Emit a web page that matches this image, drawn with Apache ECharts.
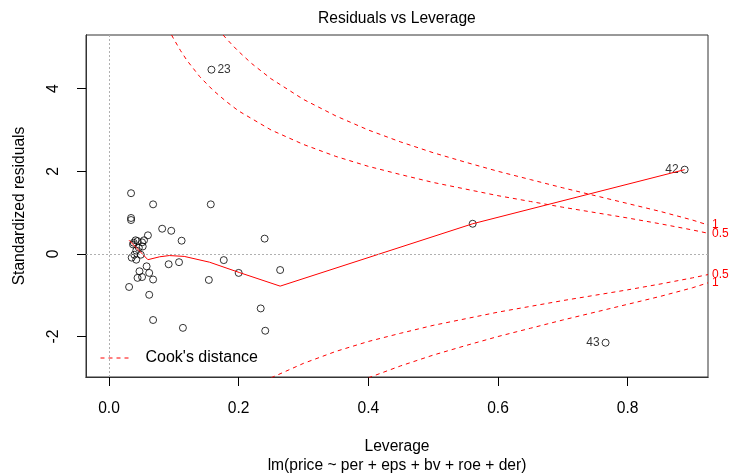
<!DOCTYPE html>
<html>
<head>
<meta charset="utf-8">
<script src="https://cdn.jsdelivr.net/npm/echarts@6/dist/echarts.min.js"></script>
<style>html,body{margin:0;padding:0;background:#fff}#c{width:731px;height:473px}</style>
</head>
<body>
<div id="c"></div>
<script>
// ---- data ----
const leverage = [0.034,0.068,0.157,0.034,0.034,0.082,0.096,0.060,0.112,0.240,
  0.038,0.044,0.051,0.054,0.046,0.052,0.042,0.049,0.035,0.042,
  0.177,0.092,0.108,0.058,0.047,0.062,0.200,0.264,0.044,0.051,
  0.068,0.154,0.031,0.062,0.234,0.068,0.114,0.241,0.561,0.041,0.037,0.039];
const stdResid = [1.47,1.20,1.20,0.87,0.82,0.61,0.56,0.45,0.32,0.37,
  0.27,0.31,0.28,0.33,0.15,0.18,0.08,-0.02,-0.09,-0.14,
  -0.15,-0.25,-0.20,-0.30,-0.42,-0.46,-0.46,-0.39,-0.58,-0.56,
  -0.62,-0.63,-0.80,-0.99,-1.32,-1.60,-1.79,-1.86,0.73,0.33,0.23,-0.02];
// labelled (extreme) observations
const idLev = [0.158, 0.888, 0.766];
const idRes = [4.46, 2.04, -2.15];
const idNames = ['23', '42', '43'];
const idSide = ['right', 'left', 'left'];
// smoother (red solid line)
const smoothLev = [0.031,0.060,0.078,0.093,0.116,0.155,0.201,0.264,0.561,0.888];
const smoothRes = [0.33,-0.14,-0.07,-0.04,-0.06,-0.20,-0.45,-0.78,0.73,2.04];
// Cook's distance contours
const cookUp05H = [0.0965,0.10,0.11,0.12,0.14,0.16,0.18,0.20,0.25,0.30,0.35,0.40,0.45,0.50,0.55,0.60,0.65,0.70,0.75,0.80,0.85,0.90,0.924];
const cookUp05R = [5.30,5.20,4.93,4.69,4.29,3.97,3.70,3.46,3.00,2.65,2.36,2.12,1.92,1.73,1.57,1.41,1.27,1.13,1.00,0.87,0.73,0.58,0.50];
const cookUp1H = [0.176,0.18,0.19,0.20,0.22,0.25,0.30,0.35,0.40,0.45,0.50,0.55,0.60,0.65,0.70,0.75,0.80,0.85,0.90,0.924];
const cookUp1R = [5.30,5.23,5.06,4.90,4.61,4.24,3.74,3.34,3.00,2.71,2.45,2.22,2.00,1.80,1.60,1.41,1.22,1.03,0.82,0.70];
const cookLo05H = [0.25,0.30,0.35,0.40,0.45,0.50,0.55,0.60,0.65,0.70,0.75,0.80,0.85,0.90,0.924];
const cookLo05R = [-3.00,-2.65,-2.36,-2.12,-1.92,-1.73,-1.57,-1.41,-1.27,-1.13,-1.00,-0.87,-0.73,-0.58,-0.50];
const cookLo1H = [0.40,0.45,0.50,0.55,0.60,0.65,0.70,0.75,0.80,0.85,0.90,0.924];
const cookLo1R = [-3.00,-2.71,-2.45,-2.22,-2.00,-1.80,-1.60,-1.41,-1.22,-1.03,-0.82,-0.70];
const xTicks = [0, 0.2, 0.4, 0.6, 0.8];
const yTicks = [-2, 0, 2, 4];
const cookLabels = ['0.5', '1', '0.5', '1'];

// ---- chart ----
const FONT = "'Liberation Sans', Arial, sans-serif";
const RED = '#ff0000';
const X_MIN = -0.0355, X_MAX = 0.924, Y_MIN = -2.98, Y_MAX = 5.30;
const GRID = { left: 86, right: 23, top: 35, bottom: 96 };
const zip = (a, b) => a.map((v, i) => [v, b[i]]);
function cookSeries(h, r, lab) {
  return {
    type: 'line', name: "Cook's distance", data: zip(h, r),
    xAxisIndex: 0, yAxisIndex: 0,
    showSymbol: false, symbol: 'none', clip: true, silent: true,
    lineStyle: { color: RED, width: 1, type: [4, 4] },
    itemStyle: { color: RED },
    endLabel: { show: true, formatter: lab, color: RED, fontSize: 12, fontFamily: FONT, distance: 4 },
    z: 3
  };
}
// tick-only axes on a second, series-free grid laid over the first
function tickAxis(ticks, pos, min, max) {
  return {
    type: 'value', gridIndex: 1, position: pos, min: min, max: max,
    axisLine: { show: true, onZero: false, lineStyle: { color: '#333', width: 1 } },
    axisTick: { show: true, length: 9, customValues: ticks, lineStyle: { color: '#000', width: 1 } },
    axisLabel: { show: false },
    splitLine: { show: false }
  };
}
const chart = echarts.init(document.getElementById('c'));
chart.setOption({
  animation: false,
  title: {
    text: 'Residuals vs Leverage', left: 318, top: 11, padding: 0,
    textStyle: { fontFamily: FONT, fontSize: 15.6, fontWeight: 'normal', color: '#000' }
  },
  legend: {
    data: ["Cook's distance"], left: 100, top: 350, padding: 0,
    itemWidth: 30, itemHeight: 14, selectedMode: false,
    itemStyle: { opacity: 0 },
    lineStyle: { color: RED, type: [4, 4], width: 1 },
    textStyle: { fontFamily: FONT, fontSize: 16, color: '#000', padding: [0, 0, 0, 10] }
  },
  grid: [
    Object.assign({ outerBoundsMode: 'none', show: true, borderColor: '#333' }, GRID),
    Object.assign({ outerBoundsMode: 'none', show: false }, GRID)
  ],
  xAxis: [{
    type: 'value', gridIndex: 0, position: 'bottom', min: X_MIN, max: X_MAX,
    name: 'Leverage\nlm(price ~ per + eps + bv + roe + der)',
    nameLocation: 'middle', nameGap: 60,
    nameTextStyle: { fontFamily: FONT, fontSize: 15.6, color: '#000', lineHeight: 19 },
    axisLine: { show: true, onZero: false, lineStyle: { color: '#333', width: 1 } },
    axisTick: { show: true, length: 9, customValues: xTicks, lineStyle: { color: '#000' } },
    axisLabel: { customValues: xTicks, formatter: v => v.toFixed(1), margin: 24, fontFamily: FONT, fontSize: 15.6, color: '#000' },
    splitLine: { show: false }
  }, tickAxis(xTicks, 'bottom', X_MIN, X_MAX)],
  yAxis: [{
    type: 'value', gridIndex: 0, position: 'left', min: Y_MIN, max: Y_MAX,
    name: 'Standardized residuals', nameLocation: 'middle', nameGap: 58, nameRotate: 90,
    nameTextStyle: { fontFamily: FONT, fontSize: 15.6, color: '#000' },
    axisLine: { show: true, onZero: false, lineStyle: { color: '#333', width: 1 } },
    axisTick: { show: true, length: 9, customValues: yTicks, lineStyle: { color: '#000' } },
    axisLabel: { customValues: yTicks, rotate: 90, margin: 24, fontFamily: FONT, fontSize: 15.6, color: '#000' },
    splitLine: { show: false }
  }, tickAxis(yTicks, 'left', Y_MIN, Y_MAX)],
  series: [
    {
      type: 'scatter', name: 'obs', data: zip(leverage, stdResid),
      xAxisIndex: 0, yAxisIndex: 0,
      symbol: 'circle', symbolSize: 7, silent: true,
      itemStyle: { color: 'rgba(0,0,0,0)', borderColor: '#000', borderWidth: 1 },
      markLine: {
        silent: true, symbol: ['none', 'none'], label: { show: false },
        lineStyle: { color: '#b0b0b0', type: [2, 2], width: 1 },
        data: [{ xAxis: 0 }, { yAxis: 0 }]
      },
      z: 2
    },
    {
      type: 'scatter', name: 'ids',
      xAxisIndex: 0, yAxisIndex: 0,
      data: idLev.map((x, i) => ({
        value: [x, idRes[i]],
        label: { show: true, formatter: idNames[i], position: idSide[i], distance: 2 }
      })),
      symbol: 'circle', symbolSize: 7, silent: true,
      itemStyle: { color: 'rgba(0,0,0,0)', borderColor: '#000', borderWidth: 1 },
      label: { fontFamily: FONT, fontSize: 12, color: '#000' },
      z: 2
    },
    {
      type: 'line', name: 'smooth', data: zip(smoothLev, smoothRes),
      xAxisIndex: 0, yAxisIndex: 0,
      showSymbol: false, symbol: 'none', silent: true,
      lineStyle: { color: RED, width: 1 }, z: 3
    },
    cookSeries(cookUp05H, cookUp05R, cookLabels[0]),
    cookSeries(cookUp1H, cookUp1R, cookLabels[1]),
    cookSeries(cookLo05H, cookLo05R, cookLabels[2]),
    cookSeries(cookLo1H, cookLo1R, cookLabels[3])
  ]
});
</script>
</body>
</html>
